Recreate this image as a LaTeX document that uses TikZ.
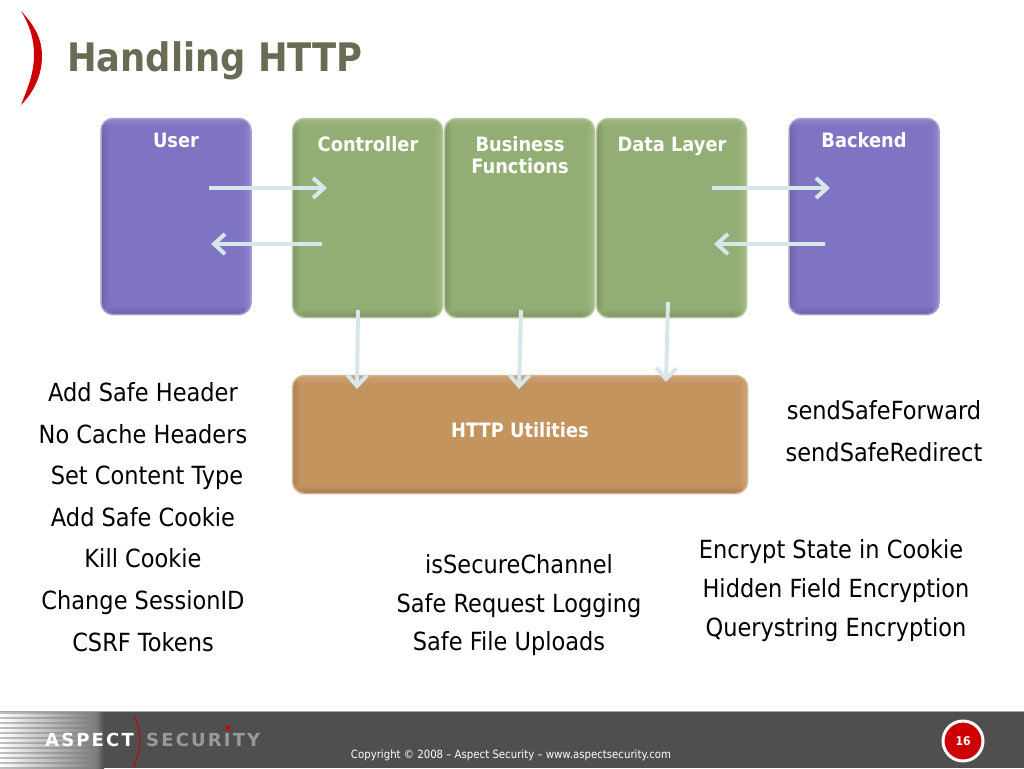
\documentclass[tikz,border=0pt]{standalone}
\usepackage{fontspec}
\setmainfont{DejaVu Sans}[FakeStretch=0.9]
\newfontfamily\logofont{DejaVu Sans}[LetterSpace=12]
\usetikzlibrary{arrows.meta,positioning}
\definecolor{titlegrey}{HTML}{6B6B55}
\definecolor{userblue}{HTML}{7F74C3}
\definecolor{layergreen}{HTML}{93AE74}
\definecolor{utilbrown}{HTML}{C4945F}
\definecolor{arrowblue}{HTML}{D6E6EB}
\definecolor{barblack}{HTML}{4F4F4F}
\definecolor{logored}{HTML}{CC0000}
\tikzset{
	block/.style={rounded corners=12pt, draw=#1!70!white, line width=1.5pt, fill=#1, minimum width=150pt, inner sep=0pt,
		path picture={
			\foreach \w/\m in {8/97,6/94,4/91,2/87} {
				\fill[#1!\m!black] (path picture bounding box.south west) rectangle ([xshift=\w pt]path picture bounding box.north west);
				\fill[#1!\m!black] (path picture bounding box.south west) rectangle ([yshift=\w pt]path picture bounding box.south east);
				\fill[#1!\m!white] (path picture bounding box.south east) rectangle ([xshift=-\w pt]path picture bounding box.north east);
				\fill[#1!\m!white] (path picture bounding box.north west) rectangle ([yshift=-\w pt]path picture bounding box.north east);
			}
		}},
	boxlabel/.style={text=white, font=\fontsize{19.8}{22}\selectfont\bfseries, align=center, inner sep=0pt},
	flow/.style={-{Straight Barb[length=11pt,width=20pt,line width=4pt]}, draw=arrowblue, line width=4pt,
		preaction={draw=black!30, transform canvas={shift={(0.8pt,-1pt)}}}},
	listtext/.style={font=\fontsize{25}{29}\selectfont, text=black, inner sep=0pt, anchor=base}
}
\begin{document}
\begin{tikzpicture}[x=1pt,y=-1pt]
	\useasboundingbox (0,0) rectangle (1024,768);
	\fill[white] (0,0) rectangle (1024,768);

	% title
	\fill[logored] (21,11) .. controls (36,27) and (42,40) .. (42,56) .. controls (42,75) and (34,92) .. (21,105) .. controls (29,85) and (34,72) .. (34,54) .. controls (34,38) and (29,24) .. (21,11) -- cycle;
	\node[anchor=west, text=titlegrey, inner sep=0pt, font=\fontsize{39.3}{44}\selectfont\bfseries] (title) at (67,61) {Handling HTTP};

	% boxes
	\node[block=userblue, minimum height=196pt] (user) at (176,216.5) {};
	\node[block=layergreen, minimum height=199pt] (controller) at (367.5,218) {};
	\node[block=layergreen, minimum height=199pt, right=0.5pt of controller] (business) {};
	\node[block=layergreen, minimum height=199pt, right=0.5pt of business] (datalayer) {};
	\node[block=userblue, minimum height=196pt] (backend) at (864,216.5) {};
	\node[block=utilbrown, minimum width=455pt, minimum height=118pt] (utilities) at (520,434.5) {};

	\node[boxlabel] (userlabel) at (176,140) {User};
	\node[boxlabel] (controllerlabel) at (368,144) {Controller};
	\node[boxlabel] (businesslabel) at (520,155) {Business\\Functions};
	\node[boxlabel, anchor=base] (datalabel) at (672,151) {Data Layer};
	\node[boxlabel] (backendlabel) at (864,140) {Backend};
	\node[boxlabel] (utilitieslabel) at (520,430) {HTTP Utilities};

	% arrows
	\coordinate (userout) at (209,188);
	\coordinate (ctrlin) at (327,188);
	\coordinate (ctrlout) at (322,244);
	\coordinate (userin) at (211,244);
	\coordinate (dataout) at (712,188);
	\coordinate (backin) at (830,188);
	\coordinate (backout) at (825,244);
	\coordinate (datain) at (714,244);
	\coordinate (ctrldown) at (358,310);
	\coordinate (ctrlutil) at (357,389);
	\coordinate (busdown) at (521,310);
	\coordinate (busutil) at (519,389);
	\coordinate (datadown) at (668,302);
	\coordinate (datautil) at (666,382);
	\foreach \from/\to in {userout/ctrlin,ctrlout/userin,dataout/backin,backout/datain,ctrldown/ctrlutil,busdown/busutil,datadown/datautil} {
		\draw[flow] (\from) -- (\to);
	}

	% lists
	\foreach \x/\y/\txt [count=\i] in {
		143/401/Add Safe Header, 143/443/No Cache Headers, 147/484/Set Content Type,
		143/526/Add Safe Cookie, 143/567/Kill Cookie, 143/609/Change SessionID, 143/651/CSRF Tokens,
		884/419/sendSafeForward, 884/461/sendSafeRedirect,
		519/573/isSecureChannel, 519/612/Safe Request Logging, 509/650/Safe File Uploads,
		831/558/Encrypt State in Cookie, 836/597/Hidden Field Encryption, 836/636/Querystring Encryption} {
		\node[listtext] (item\i) at (\x,\y) {\txt};
	}

	% footer
	\fill[barblack] (0,711) rectangle (1024,768);
	\draw[black!35, line width=1pt] (0,711) -- (1024,711);
	\fill[left color=black!25, right color=black!52] (0,712) rectangle (100,768);
	\fill[left color=black!52, right color=barblack] (96,712) rectangle (104,768);
	\foreach \y in {714,719,...,766} {
		\fill[left color=white, right color=black!52] (0,\y) rectangle (98,\y+2.5);
	}
	\node[anchor=west, inner sep=0pt, text=white, font=\logofont\fontsize{18}{20}\selectfont\bfseries] (aspect) at (45,740) {ASPECT};
	\node[anchor=west, inner sep=0pt, text=black!40, font=\logofont\fontsize{18}{20}\selectfont\bfseries] (security) at (146,740) {SECURITY};
	\fill[logored] (228,728) circle (2.5pt);
	\draw[logored, line width=1pt] (134,716) .. controls (142,732) and (142,748) .. (134,766);
	\node[text=white, inner sep=0pt, font=\fontsize{11.3}{13}\selectfont] (copyright) at (511,755) {Copyright © 2008 – Aspect Security – www.aspectsecurity.com};
	\node[circle, fill=logored, draw=white, line width=3pt, minimum size=40pt, inner sep=0pt, text=white, font=\fontsize{12}{14}\selectfont\bfseries] (pagenum) at (963,741) {16};
\end{tikzpicture}
\end{document}
